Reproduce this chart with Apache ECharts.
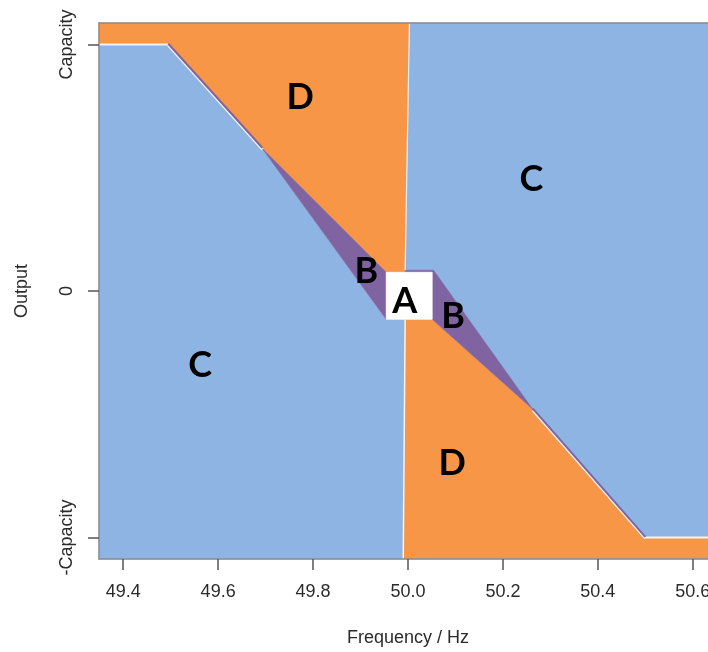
<!DOCTYPE html>
<html>
<head>
<meta charset="utf-8">
<script src="https://cdn.jsdelivr.net/npm/echarts@6/dist/echarts.min.js"></script>
<style>
html,body{margin:0;padding:0;background:#fff;}
#chart{width:708px;height:652px;}
</style>
</head>
<body>
<div id="chart"></div>
<script>
// ---- data ----
const xTicks = [49.4, 49.6, 49.8, 50.0, 50.2, 50.4, 50.6];
const xTickLabels = ['49.4', '49.6', '49.8', '50.0', '50.2', '50.4', '50.6'];
const yTicks = [-1, 0, 1];
const yTickLabels = ['-Capacity', '0', 'Capacity'];

const xMin = 49.349, xMax = 50.651, yMin = -1.087, yMax = 1.087;

// region polygons (frequency, output)
const regionD_upper = [[49.349, 1.087], [50.003, 1.087], [49.994, 0.076], [49.954, 0.076], [49.693, 0.578], [49.495, 1.0], [49.349, 1.0]];
const regionB_upper = [[49.693, 0.578], [49.954, 0.076], [49.954, -0.115]];
const regionC_left = [[49.349, -1.087], [49.349, 1.0], [49.495, 1.0], [49.693, 0.578], [49.954, -0.115], [49.994, -0.115], [49.990, -1.087]];
const regionD_lower = [[49.994, -0.115], [50.051, -0.115], [50.263, -0.480], [50.500, -1.0], [50.651, -1.0], [50.651, -1.087], [49.990, -1.087]];
const regionB_lower = [[49.994, 0.084], [50.054, 0.084], [50.263, -0.480], [50.051, -0.115], [50.051, 0.076], [49.994, 0.076]];
const regionC_right = [[50.003, 1.087], [50.651, 1.087], [50.651, -1.0], [50.500, -1.0], [50.263, -0.480], [50.054, 0.084], [49.994, 0.084]];
const regionA = [[49.954, 0.076], [50.051, 0.076], [50.051, -0.115], [49.954, -0.115]];

// boundary lines
const droopUpper = [[49.495, 1.0], [49.693, 0.578]];
const droopLower = [[50.263, -0.480], [50.500, -1.0]];
const capLineLeft = [[49.349, 1.0], [49.495, 1.0]];
const capLineRight = [[50.500, -1.0], [50.651, -1.0]];
const splitUpper = [[50.003, 1.087], [49.994, 0.084]];
const splitLower = [[49.994, -0.115], [49.990, -1.087]];

// region labels
const labelText = ['D', 'C', 'B', 'A', 'B', 'C', 'D'];
const labelX = [49.773, 50.260, 49.912, 49.993, 50.095, 49.562, 50.093];
const labelY = [0.785, 0.453, 0.080, -0.042, -0.103, -0.301, -0.698];

// ---- styles ----
const ORANGE = '#F79646', BLUE = '#8EB4E3', PURPLE = '#8064A2';

function polySeries(points, color, z) {
  return {
    type: 'custom', coordinateSystem: 'cartesian2d', silent: true, z: z,
    data: [points[0]],
    renderItem: function (params, api) {
      return {
        type: 'polygon',
        shape: { points: points.map(function (p) { return api.coord(p); }) },
        style: { fill: color, stroke: color, lineWidth: 0.6 }
      };
    }
  };
}
function lineSeries(points, color, width, z, dy) {
  dy = dy || 0;
  return {
    type: 'line', silent: true, z: z, symbol: 'none',
    data: points.map(function (p) { return [p[0], p[1] + dy]; }),
    lineStyle: { color: color, width: width }
  };
}
const labelData = labelText.map(function (t, i) { return [labelX[i], labelY[i], t]; });

function findLabel(arr, labels, v) {
  for (let i = 0; i < arr.length; i++) if (Math.abs(arr[i] - v) < 1e-6) return labels[i];
  return '';
}

const chart = echarts.init(document.getElementById('chart'), null, { renderer: 'canvas' });
chart.setOption({
  animation: false,
  backgroundColor: '#fff',
  grid: { left: 99, width: 618, top: 23, height: 536, containLabel: false, outerBoundsMode: 'none' },
  xAxis: [{
    type: 'value', min: xMin, max: xMax, position: 'bottom', z: 10,
    axisLine: { show: true, onZero: false, lineStyle: { color: '#8c8c8c', width: 1.5 } },
    axisTick: { show: true, customValues: xTicks, length: 11, lineStyle: { color: '#555', width: 1.5 } },
    axisLabel: { customValues: xTicks, formatter: function (v) { return findLabel(xTicks, xTickLabels, v); },
      fontSize: 18, color: '#2b2b2b', margin: 24, fontFamily: 'Liberation Sans, Arial, sans-serif' },
    splitLine: { show: false },
    name: 'Frequency / Hz', nameLocation: 'middle', nameGap: 70,
    nameTextStyle: { fontSize: 18, color: '#2b2b2b', fontFamily: 'Liberation Sans, Arial, sans-serif' }
  }, {
    type: 'value', min: xMin, max: xMax, position: 'top', z: 10,
    axisLine: { show: true, onZero: false, lineStyle: { color: '#8c8c8c', width: 1.5 } },
    axisTick: { show: false }, axisLabel: { show: false }, splitLine: { show: false }
  }],
  yAxis: [{
    type: 'value', min: yMin, max: yMax, position: 'left', z: 10,
    axisLine: { show: true, onZero: false, lineStyle: { color: '#8c8c8c', width: 1.5 } },
    axisTick: { show: true, customValues: yTicks, length: 11, lineStyle: { color: '#555', width: 1.5 } },
    axisLabel: { customValues: yTicks, rotate: 90, formatter: function (v) { return findLabel(yTicks, yTickLabels, v); },
      fontSize: 18, color: '#2b2b2b', margin: 23, fontFamily: 'Liberation Sans, Arial, sans-serif' },
    splitLine: { show: false },
    name: 'Output', nameLocation: 'middle', nameGap: 68,
    nameTextStyle: { fontSize: 18, color: '#2b2b2b', fontFamily: 'Liberation Sans, Arial, sans-serif' }
  }],
  series: [
    polySeries(regionC_left, BLUE, 2),
    polySeries(regionC_right, BLUE, 2),
    polySeries(regionD_upper, ORANGE, 2),
    polySeries(regionD_lower, ORANGE, 2),
    polySeries(regionB_upper, PURPLE, 3),
    polySeries(regionB_lower, PURPLE, 3),
    polySeries(regionA, '#ffffff', 4),
    lineSeries(droopUpper, '#f2f2f2', 2.5, 5, -0.004),
    lineSeries(droopLower, '#f2f2f2', 2.5, 5, -0.004),
    lineSeries(droopUpper, PURPLE, 2, 6, 0.003),
    lineSeries(droopLower, PURPLE, 2, 6, 0.003),
    lineSeries(capLineLeft, '#f4f4f4', 2, 5),
    lineSeries(capLineRight, '#f4f4f4', 2, 5),
    lineSeries(splitUpper, '#eef2f8', 1.2, 5),
    lineSeries(splitLower, '#f4f4f4', 1.5, 5),
    {
      type: 'custom', coordinateSystem: 'cartesian2d', silent: true, z: 8,
      data: labelData,
      renderItem: function (params, api) {
        const pt = api.coord([api.value(0), api.value(1)]);
        return {
          type: 'text', x: pt[0], y: pt[1],
          style: { text: labelText[params.dataIndex], fill: '#000', font: 'bold 36px Lato, "Open Sans", sans-serif',
            textAlign: 'center', textVerticalAlign: 'middle' }
        };
      }
    }
  ]
});
</script>
</body>
</html>
